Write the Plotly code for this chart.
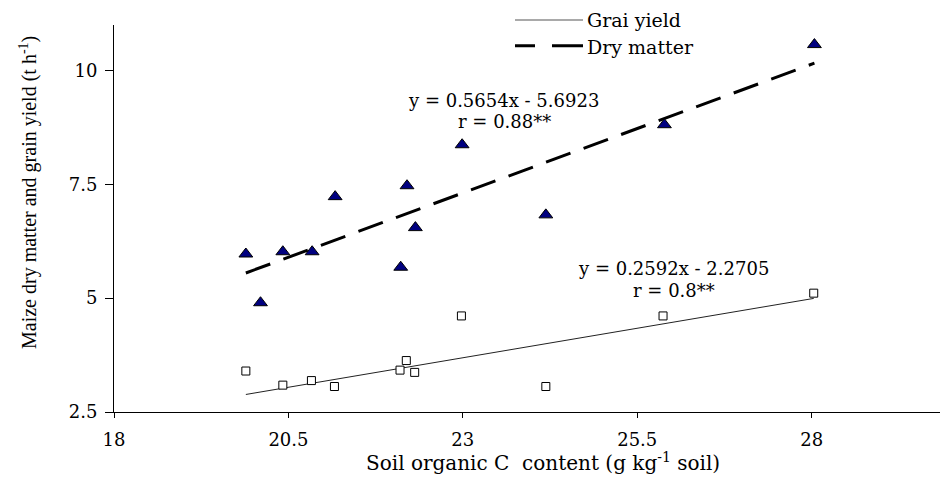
import plotly.graph_objects as go

# ---- data ----
soc_dry = [19.89, 20.10, 20.42, 20.84, 21.17, 22.11, 22.20, 22.32, 22.99, 24.19, 25.89, 28.04]
dry_matter = [5.97, 4.90, 6.02, 6.02, 7.23, 5.68, 7.47, 6.55, 8.37, 6.83, 8.81, 10.57]

soc_grain = [19.89, 20.42, 20.83, 21.16, 22.10, 22.19, 22.31, 22.98, 24.19, 25.87, 28.03]
grain_yield = [3.40, 3.09, 3.19, 3.06, 3.42, 3.63, 3.37, 4.61, 3.06, 4.61, 5.11]

# printed regression equations
dry_slope, dry_intercept = 0.5654, -5.6923
grain_slope, grain_intercept = 0.2592, -2.2705

x_ticks = [18, 20.5, 23, 25.5, 28]
x_tick_labels = ["18", "20.5", "23", "25.5", "28"]
y_ticks = [2.5, 5, 7.5, 10]
y_tick_labels = ["2.5", "5", "7.5", "10"]

SERIF = "DejaVu Serif"

fig = go.Figure()

# trend lines
dx = [min(soc_dry), max(soc_dry)]
fig.add_trace(go.Scatter(x=dx, y=[dry_slope * v + dry_intercept for v in dx],
                         mode="lines", line=dict(color="black", width=3, dash="26px,14px"),
                         showlegend=False, hoverinfo="skip"))
gx = [min(soc_grain), max(soc_grain)]
fig.add_trace(go.Scatter(x=gx, y=[grain_slope * v + grain_intercept for v in gx],
                         mode="lines", line=dict(color="#222222", width=1),
                         showlegend=False, hoverinfo="skip"))

# points
fig.add_trace(go.Scatter(x=soc_dry, y=dry_matter, mode="markers",
                         marker=dict(symbol="triangle-up", size=12, color="#000080",
                                     line=dict(color="black", width=1)),
                         showlegend=False))
fig.add_trace(go.Scatter(x=soc_grain, y=grain_yield, mode="markers",
                         marker=dict(symbol="square", size=8, color="white",
                                     line=dict(color="black", width=1)),
                         showlegend=False))

L, R, T, B = 114, 0, 25, 65
W, H = 940, 477
pw, ph = W - L - R, H - T - B


def px(xp):
    return (xp - L) / pw


def py(yp):
    return (H - B - yp) / ph


shapes = [
    dict(type="line", xref="paper", yref="paper", x0=px(515), x1=px(583), y0=py(20), y1=py(20),
         line=dict(color="#555555", width=1.2)),
    dict(type="line", xref="paper", yref="paper", x0=px(515), x1=px(583), y0=py(45.7), y1=py(45.7),
         line=dict(color="black", width=3, dash="20px,17px,31px,10px")),
]

ann_font = dict(family=SERIF, size=19, color="black")
eq_font = dict(family=SERIF, size=18, color="black")
annotations = [
    dict(text="Grai yield", xref="paper", yref="paper", x=px(585), y=py(20),
         xanchor="left", yanchor="middle", showarrow=False, font=ann_font),
    dict(text="Dry matter", xref="paper", yref="paper", x=px(585), y=py(46.7),
         xanchor="left", yanchor="middle", showarrow=False, font=ann_font),
    dict(text="y = 0.5654x - 5.6923", xref="paper", yref="paper", x=px(503), y=py(101),
         xanchor="center", yanchor="middle", showarrow=False, font=eq_font, borderpad=0),
    dict(text="r = 0.88**", xref="paper", yref="paper", x=px(504), y=py(121),
         xanchor="center", yanchor="middle", showarrow=False, font=eq_font, borderpad=0),
    dict(text="y = 0.2592x - 2.2705", xref="paper", yref="paper", x=px(673), y=py(268),
         xanchor="center", yanchor="middle", showarrow=False, font=eq_font, borderpad=0),
    dict(text="r = 0.8**", xref="paper", yref="paper", x=px(673.5), y=py(290),
         xanchor="center", yanchor="middle", showarrow=False, font=eq_font, borderpad=0),
    dict(text="Soil organic C\u00a0 content (g kg<sup>-1</sup> soil)", xref="paper", yref="paper",
         x=px(543), y=py(462), xanchor="center", yanchor="middle", showarrow=False,
         font=dict(family=SERIF, size=20, color="black"), borderpad=0),
    dict(text="Maize dry matter and grain yield (t h<sup>-1</sup>)", xref="paper", yref="paper",
         x=px(28.5), y=py(192.5), xanchor="center", yanchor="middle", textangle=-90,
         showarrow=False, font=dict(family="Liberation Serif", size=20, color="black")),
]

fig.update_layout(
    width=W, height=H, autosize=False,
    margin=dict(l=L, r=R, t=T, b=B, pad=0),
    plot_bgcolor="white", paper_bgcolor="white",
    showlegend=False,
    shapes=shapes, annotations=annotations,
    xaxis=dict(range=[18, 29.84], showline=True, linecolor="black", linewidth=1,
               ticks="outside", ticklen=5, tickcolor="black", tickwidth=1,
               tickvals=x_ticks, ticktext=x_tick_labels, showgrid=False, zeroline=False,
               tickfont=dict(family=SERIF, size=18, color="black"), ticklabelstandoff=6),
    yaxis=dict(range=[2.5, 11], showline=True, linecolor="black", linewidth=1,
               ticks="outside", ticklen=8, tickcolor="black", tickwidth=1,
               tickvals=y_ticks, ticktext=y_tick_labels, showgrid=False, zeroline=False,
               tickfont=dict(family=SERIF, size=18, color="black"), ticklabelstandoff=4),
)

fig.write_html("out.html", config={"displayModeBar": False},
               post_script="document.body.style.margin='0';document.body.style.overflow='hidden';")
